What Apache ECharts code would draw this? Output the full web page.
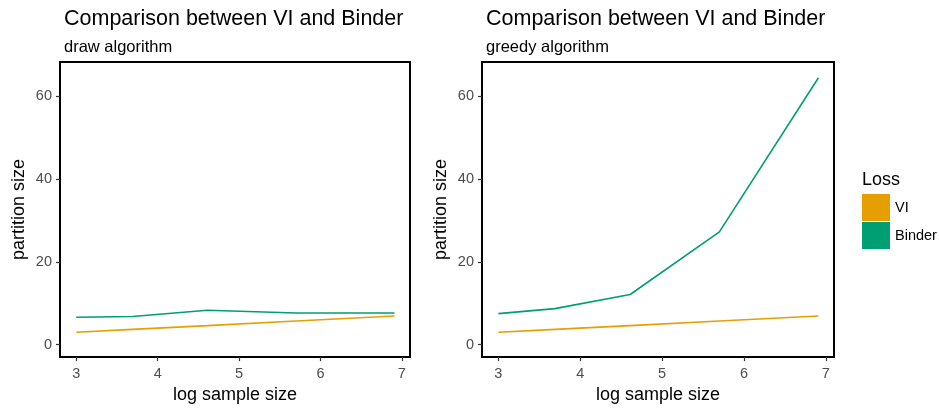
<!DOCTYPE html>
<html><head><meta charset="utf-8">
<script src="https://cdn.jsdelivr.net/npm/echarts@6/dist/echarts.min.js"></script>
<style>html,body{margin:0;padding:0;background:#fff}#c{width:939px;height:409px}</style>
</head><body><div id="c"></div>
<script>
const logSizes = [3.00, 3.69, 4.61, 5.70, 6.91];
const drawVI = [3.0, 3.7, 4.6, 5.7, 6.9];
const drawBinder = [6.6, 6.8, 8.3, 7.65, 7.65];
const greedyVI = [3.0, 3.7, 4.6, 5.7, 6.9];
const greedyBinder = [7.5, 8.7, 12.1, 27.2, 64.4];
const xTicks = [3, 4, 5, 6, 7];
const yTicks = [0, 20, 40, 60];
const titleText = 'Comparison between VI and Binder';
const subtitles = ['draw algorithm', 'greedy algorithm'];
const lossNames = ['VI', 'Binder'];
const lossColors = ['#E69F00', '#009E73'];

const FONT = '"Liberation Sans", Arial, sans-serif';
const pair = (xs, ys) => xs.map((x, i) => [x, ys[i]]);

const grids = [
  {left: 60, top: 62, width: 350, height: 299},
  {left: 482, top: 62, width: 352, height: 299}
];

function xAxis(i) {
  return {
    type: 'value', gridIndex: i, min: 2.8, max: 7.1,
    name: 'log sample size', nameLocation: 'middle', nameGap: 27,
    nameTextStyle: {fontFamily: FONT, fontSize: 18, color: '#000'},
    axisLine: {show: true, onZero: false, lineStyle: {color: '#000', width: 2}},
    axisTick: {show: true, inside: false, length: 4, lineStyle: {color: '#333', width: 1.2}, customValues: xTicks},
    axisLabel: {fontFamily: FONT, fontSize: 14.5, color: '#4D4D4D', margin: 9, customValues: xTicks},
    splitLine: {show: false}
  };
}
function yAxis(i) {
  return {
    type: 'value', gridIndex: i, min: -3.0, max: 68.2,
    name: 'partition size', nameLocation: 'middle', nameGap: 32,
    nameTextStyle: {fontFamily: FONT, fontSize: 18, color: '#000'},
    axisLine: {show: true, onZero: false, lineStyle: {color: '#000', width: 2}},
    axisTick: {show: true, inside: false, length: 4, lineStyle: {color: '#333', width: 1.2}, customValues: yTicks},
    axisLabel: {fontFamily: FONT, fontSize: 14.5, color: '#4D4D4D', margin: 8, customValues: yTicks},
    splitLine: {show: false}
  };
}
function line(name, data, gi, color) {
  return {
    type: 'line', name: name, xAxisIndex: gi, yAxisIndex: gi, data: data,
    symbol: 'none', lineStyle: {color: color, width: 1.6}, itemStyle: {color: color},
    animation: false
  };
}

const chart = echarts.init(document.getElementById('c'));
chart.setOption({
  backgroundColor: '#fff',
  animation: false,
  title: grids.map((g, i) => ({
    text: titleText, subtext: subtitles[i], left: g.left - 1, top: 3,
    itemGap: 9,
    textStyle: {fontFamily: FONT, fontSize: 21.5, fontWeight: 'normal', color: '#000'},
    subtextStyle: {fontFamily: FONT, fontSize: 16.5, color: '#000'}
  })),
  grid: grids.map(g => Object.assign({show: true, borderColor: '#000', borderWidth: 2, backgroundColor: '#fff'}, g)),
  xAxis: [xAxis(0), xAxis(1)],
  yAxis: [yAxis(0), yAxis(1)],
  legend: {
    data: lossNames, orient: 'vertical', left: 862, top: 194, padding: 0,
    icon: 'rect', itemWidth: 28, itemHeight: 27, itemGap: 1,
    textStyle: {fontFamily: FONT, fontSize: 14.5, color: '#000'}
  },
  graphic: [{
    type: 'text', left: 862, top: 171,
    style: {text: 'Loss', fontFamily: FONT, fontSize: 18, fill: '#000'}
  }],
  series: [
    line(lossNames[0], pair(logSizes, drawVI), 0, lossColors[0]),
    line(lossNames[1], pair(logSizes, drawBinder), 0, lossColors[1]),
    line(lossNames[0], pair(logSizes, greedyVI), 1, lossColors[0]),
    line(lossNames[1], pair(logSizes, greedyBinder), 1, lossColors[1])
  ]
});
</script></body></html>
